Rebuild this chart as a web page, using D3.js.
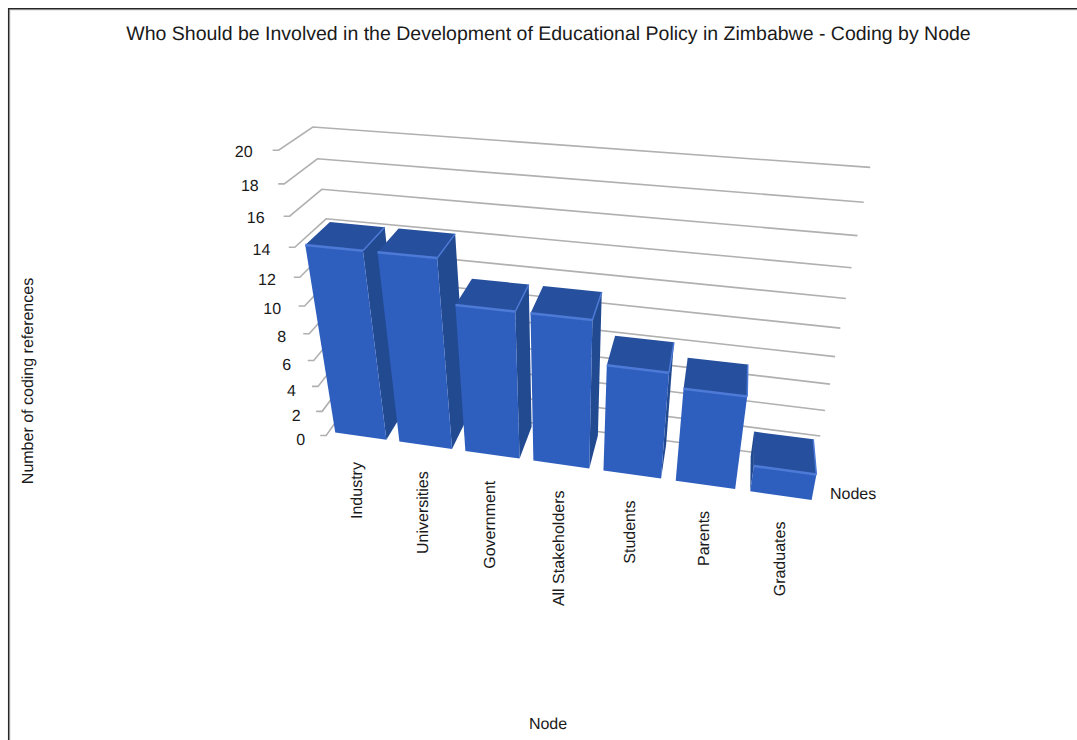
<!DOCTYPE html>
<html><head><meta charset="utf-8">
<script src="https://cdn.jsdelivr.net/npm/d3@7"></script>
<style>html,body{margin:0;padding:0;background:#fff}svg{display:block}text{font-family:"Liberation Sans",Arial,sans-serif;fill:#1a1a1a;text-rendering:geometricPrecision}</style>
</head><body><svg id="c" width="1077" height="740"></svg>
<script>
const categories = ["Industry","Universities","Government","All Stakeholders","Students","Parents","Graduates"];
const values = [14,14,11,11,8,7,2];
const titleText = "Who Should be Involved in the Development of Educational Policy in Zimbabwe - Coding by Node";
const yAxisTitle = "Number of coding references";
const xAxisTitle = "Node";
const seriesName = "Nodes";
const valueDomain = [0,20];

const svg = d3.select("#c");
const band = d3.scaleBand().domain(categories).range([0,1]).paddingInner(0.2).paddingOuter(0.1);
const val = d3.scaleLinear().domain(valueDomain).range([0,1]);
const depth = d3.scaleLinear().domain([0,1]).range([0,1]);
const ticks = val.ticks(10);
const barFront = 0.1, barBack = 0.9;

// camera calibration: [u, value, depth, screenX, screenY]
const frontEdge = [[20,278,150],[18,283,184],[16,290,216],[14,295,247],[12,300,277],[10,305,306],[8,310,334],[6,315,361],[4,319,386],[2,323,411],[0,325,436]];
const backLeftEdge = [[20,313,127],[18,317,158],[16,322,189],[14,327,218]];
const backRightEdge = [[20,870,167],[18,863,202],[16,858,236],[14,852,268],[12,846,298],[10,840,328],[8,835,357],[6,830,384],[4,825,411],[2,820,436],[0,816,461]];
const bw = band.bandwidth();
const calib = [
  ...frontEdge.map(p=>[0,val(p[0]),0,p[1],p[2]]),
  ...backLeftEdge.map(p=>[0,val(p[0]),1,p[1],p[2]]),
  ...backRightEdge.map(p=>[1,val(p[0]),1,p[1],p[2]]),
  [band("Industry"),val(14),barFront,305,247],
  [band("Industry"),val(14),barBack,330,223],
  [band("Industry"),0,barFront,333,432],
  [band("Government")+bw,val(11),barFront,515,312],
  [band("Students"),0,barFront,603,470],
  [band("Graduates"),0,barFront,751,491],
  [band("Graduates")+bw,0,barFront,812,499],
  [band("Graduates")+bw,val(2),barBack,813,440],
  [band("Graduates"),val(2),barFront,754,466]
];
function solve(A,b){
  const n=b.length, M=A.map((r,i)=>[...r,b[i]]);
  for(let i=0;i<n;i++){
    let m=i; for(let k=i+1;k<n;k++) if(Math.abs(M[k][i])>Math.abs(M[m][i])) m=k;
    [M[i],M[m]]=[M[m],M[i]];
    for(let k=i+1;k<n;k++){const f=M[k][i]/M[i][i]; for(let j=i;j<=n;j++) M[k][j]-=f*M[i][j];}
  }
  const x=new Array(n).fill(0);
  for(let i=n-1;i>=0;i--){let s=M[i][n]; for(let j=i+1;j<n;j++) s-=M[i][j]*x[j]; x[i]=s/M[i][i];}
  return x;
}
const S=1000;
const rows=[],rhs=[];
calib.forEach(([u,v,d,x,y])=>{
  const X=x/S,Y=y/S;
  rows.push([u,v,d,1,0,0,0,0,-X*u,-X*v,-X*d]);rhs.push(X);
  rows.push([0,0,0,0,u,v,d,1,-Y*u,-Y*v,-Y*d]);rhs.push(Y);
});
const ATA=d3.range(11).map(i=>d3.range(11).map(j=>d3.sum(rows,r=>r[i]*r[j])));
const ATb=d3.range(11).map(i=>d3.sum(rows,(r,k)=>r[i]*rhs[k]));
const P=solve(ATA,ATb);
function project(u,v,d){
  const w=P[8]*u+P[9]*v+P[10]*d+1;
  return [S*(P[0]*u+P[1]*v+P[2]*d+P[3])/w, S*(P[4]*u+P[5]*v+P[6]*d+P[7])/w];
}

// frame
svg.append("path").attr("d","M10,740V10H1077").attr("fill","none").attr("stroke","#d8d8d8").attr("stroke-width",1);
svg.append("path").attr("d","M8.7,740V8.7H1077").attr("fill","none").attr("stroke","#262626").attr("stroke-width",1.5);

// title
svg.append("text").attr("x",548.5).attr("y",39.5).attr("text-anchor","middle").attr("font-size",19.5).text(titleText);

// grid
const line=d3.line();
ticks.forEach(t=>{
  const v=val(t), f=project(0,v,depth(0)), b=project(0,v,depth(1)), r=project(1,v,depth(1));
  svg.append("path").attr("d",line([[f[0]-6,f[1]],f,b,r])).attr("fill","none").attr("stroke","#b0b0b0").attr("stroke-width",1.6);
  const k=1-v;
  svg.append("text").attr("x",f[0]-26+5*k).attr("y",f[1]+6.5+3.5*k).attr("text-anchor","end").attr("font-size",16).text(t);
});

// bars
const colFront="#2f5fbe", colTop="#264f9e", colSide="#224a91", colEdge="#4d7ad6";
const poly=p=>line(p)+"Z";
const area=p=>d3.polygonArea(p);
categories.forEach((c,i)=>{
  const u0=band(c),u1=u0+bw,h=val(values[i]);
  const a=project(u0,0,barFront),b=project(u1,0,barFront),cc=project(u1,h,barFront),e=project(u0,h,barFront);
  const a2=project(u0,0,barBack),b2=project(u1,0,barBack),c2=project(u1,h,barBack),e2=project(u0,h,barBack);
  const g=svg.append("g");
  const right=[b,b2,c2,cc], left=[a2,a,e,e2];
  if(area(right)>0) g.append("path").attr("d",poly(right)).attr("fill",colSide);
  if(area(left)>0) g.append("path").attr("d",poly(left)).attr("fill",colSide);
  g.append("path").attr("d",poly([e,cc,c2,e2])).attr("fill",colTop);
  g.append("path").attr("d",poly([a,b,cc,e])).attr("fill",colFront);
  g.append("path").attr("d",line([e,cc])).attr("stroke",colEdge).attr("stroke-width",2.5).attr("fill","none");
  g.append("path").attr("d",line([cc,c2])).attr("stroke",colEdge).attr("stroke-width",1.5).attr("fill","none");
  const lx=(a[0]+b[0])/2-4+2*i/(categories.length-1), ly=(a[1]+b[1])/2+26;
  svg.append("text").attr("transform",`translate(${lx},${ly}) rotate(-90)`).attr("text-anchor","end").attr("dy","0.35em").attr("font-size",16).text(c);
});

svg.append("text").attr("x",830).attr("y",499).attr("font-size",16).text(seriesName);
svg.append("text").attr("transform","translate(33,381) rotate(-90)").attr("text-anchor","middle").attr("font-size",16).text(yAxisTitle);
svg.append("text").attr("x",548).attr("y",729).attr("text-anchor","middle").attr("font-size",16).text(xAxisTitle);
</script></body></html>
